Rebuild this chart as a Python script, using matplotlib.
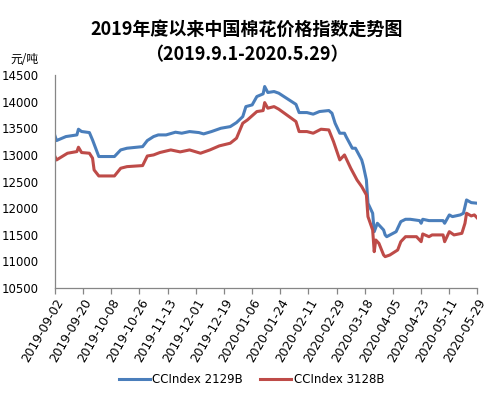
import matplotlib
matplotlib.use("Agg")
import matplotlib.pyplot as plt
import matplotlib.dates as mdates
import pandas as pd

# --- Data ---
dates_2129 = [
    "2019-09-02", "2019-09-03", "2019-09-09", "2019-09-16", "2019-09-17", "2019-09-19",
    "2019-09-24", "2019-09-26", "2019-09-30", "2019-10-10", "2019-10-14", "2019-10-18",
    "2019-10-28", "2019-10-31", "2019-11-04", "2019-11-07", "2019-11-12", "2019-11-18",
    "2019-11-22", "2019-11-27", "2019-12-03", "2019-12-06", "2019-12-11", "2019-12-17",
    "2019-12-23", "2019-12-27", "2019-12-31", "2020-01-02", "2020-01-06", "2020-01-09",
    "2020-01-13", "2020-01-14", "2020-01-16", "2020-01-20", "2020-01-23", "2020-02-03",
    "2020-02-05", "2020-02-10", "2020-02-14", "2020-02-18", "2020-02-24", "2020-02-26",
    "2020-02-28", "2020-03-02", "2020-03-05", "2020-03-06", "2020-03-10", "2020-03-12",
    "2020-03-16", "2020-03-17", "2020-03-19", "2020-03-20", "2020-03-23", "2020-03-24",
    "2020-03-26", "2020-03-27", "2020-03-30", "2020-03-31", "2020-04-01", "2020-04-07",
    "2020-04-08", "2020-04-10", "2020-04-13", "2020-04-16", "2020-04-22", "2020-04-23",
    "2020-04-24", "2020-04-28", "2020-05-07", "2020-05-08", "2020-05-11", "2020-05-13",
    "2020-05-18", "2020-05-20", "2020-05-22", "2020-05-25", "2020-05-29",
]
idx_2129 = [
    13358, 13270, 13345, 13376, 13483, 13440,
    13420, 13282, 12970, 12970, 13094, 13126,
    13156, 13270, 13345, 13376, 13376, 13427,
    13408, 13439, 13420, 13395, 13439, 13501,
    13532, 13608, 13720, 13908, 13940, 14097,
    14147, 14285, 14173, 14191, 14160, 13950,
    13796, 13796, 13766, 13815, 13834, 13784,
    13596, 13408, 13408, 13345, 13126, 13126,
    12906, 12800, 12530, 12092, 11904, 11558,
    11716, 11685, 11590, 11497, 11464, 11558,
    11622, 11747, 11791, 11791, 11766, 11716,
    11791, 11766, 11766, 11716, 11873, 11841,
    11873, 11904, 12154, 12104, 12092,
]

dates_3128 = [
    "2019-09-02", "2019-09-03", "2019-09-10", "2019-09-16", "2019-09-17", "2019-09-19",
    "2019-09-24", "2019-09-26", "2019-09-27", "2019-09-30", "2019-10-10", "2019-10-14",
    "2019-10-18", "2019-10-28", "2019-10-31", "2019-11-04", "2019-11-08", "2019-11-15",
    "2019-11-21", "2019-11-27", "2019-12-04", "2019-12-10", "2019-12-16", "2019-12-23",
    "2019-12-27", "2019-12-31", "2020-01-03", "2020-01-09", "2020-01-13", "2020-01-14",
    "2020-01-16", "2020-01-20", "2020-01-23", "2020-02-03", "2020-02-05", "2020-02-10",
    "2020-02-14", "2020-02-19", "2020-02-24", "2020-02-27", "2020-03-02", "2020-03-05",
    "2020-03-09", "2020-03-13", "2020-03-16", "2020-03-19", "2020-03-20", "2020-03-23",
    "2020-03-24", "2020-03-25", "2020-03-27", "2020-03-30", "2020-03-31", "2020-04-03",
    "2020-04-08", "2020-04-10", "2020-04-13", "2020-04-20", "2020-04-23", "2020-04-24",
    "2020-04-28", "2020-04-30", "2020-05-07", "2020-05-08", "2020-05-11", "2020-05-14",
    "2020-05-19", "2020-05-21", "2020-05-22", "2020-05-25", "2020-05-27", "2020-05-29",
]
idx_3128 = [
    12970, 12906, 13032, 13063, 13145, 13045,
    13032, 12940, 12718, 12605, 12605, 12750,
    12780, 12800, 12980, 13000, 13045, 13094,
    13057, 13094, 13032, 13094, 13170, 13220,
    13314, 13596, 13658, 13815, 13833, 13983,
    13878, 13908, 13860, 13627, 13439, 13439,
    13408, 13483, 13470, 13250, 12906, 13000,
    12750, 12530, 12406, 12248, 11841, 11590,
    11182, 11402, 11339, 11120, 11089, 11120,
    11214, 11370, 11464, 11464, 11370, 11515,
    11464, 11497, 11497, 11370, 11558, 11497,
    11527, 11716, 11904, 11854, 11873, 11810,
]

series_names = ["CCIndex 2129B", "CCIndex 3128B"]
title = "2019年度以来中国棉花价格指数走势图\n（2019.9.1-2020.5.29）"
unit_label = "元/吨"
x_start, x_end = "2019-09-02", "2020-05-29"

C_BLUE = "#4A7EBB"
C_RED = "#BE4B48"
C_AXIS = "#868686"
CJK = ["Noto Sans CJK SC", "DejaVu Sans"]

plt.rcParams.update({
    "font.family": "DejaVu Sans",
    "font.size": 8.5,
    "axes.spines.top": False,
    "axes.spines.right": False,
})

fig = plt.figure(figsize=(5.03, 3.95), dpi=100)
ax = fig.add_axes([0.1093, 0.2709, 0.840, 0.539])

ax.plot(pd.to_datetime(dates_2129), idx_2129, color=C_BLUE, lw=2.2,
        label=series_names[0], solid_joinstyle="round")
ax.plot(pd.to_datetime(dates_3128), idx_3128, color=C_RED, lw=2.2,
        label=series_names[1], solid_joinstyle="round")

ax.set_xlim(pd.Timestamp(x_start), pd.Timestamp(x_end))
ax.set_ylim(10500, 14500)
ax.set_yticks(range(10500, 14501, 500))
ticks = pd.date_range(x_start, x_end, freq="18D")
ax.set_xticks(ticks)
ax.xaxis.set_major_formatter(mdates.DateFormatter("%Y-%m-%d"))
for lab in ax.get_xticklabels():
    lab.set_rotation(60)
    lab.set_ha("right")
    lab.set_rotation_mode("anchor")

for side in ("left", "bottom"):
    ax.spines[side].set_color(C_AXIS)
    ax.spines[side].set_linewidth(0.9)
ax.tick_params(axis="y", length=0, pad=12, labelsize=8.5, colors="black")
ax.tick_params(axis="x", length=4, width=0.9, color=C_AXIS, pad=2, labelsize=8.8)

fig.text(0.49, 0.95, title, ha="center", va="top", fontsize=13,
         fontweight="bold", family=CJK, linespacing=1.4)
fig.text(0.02, 0.832, unit_label, ha="left", va="bottom", fontsize=8.5, family=CJK)

fig.legend(loc="center", bbox_to_anchor=(0.5, 0.04), ncol=2, frameon=False,
           fontsize=8.5, handlelength=2.6, columnspacing=1.5, handletextpad=0.2)

fig.savefig("out.png", dpi=100, facecolor="white")
